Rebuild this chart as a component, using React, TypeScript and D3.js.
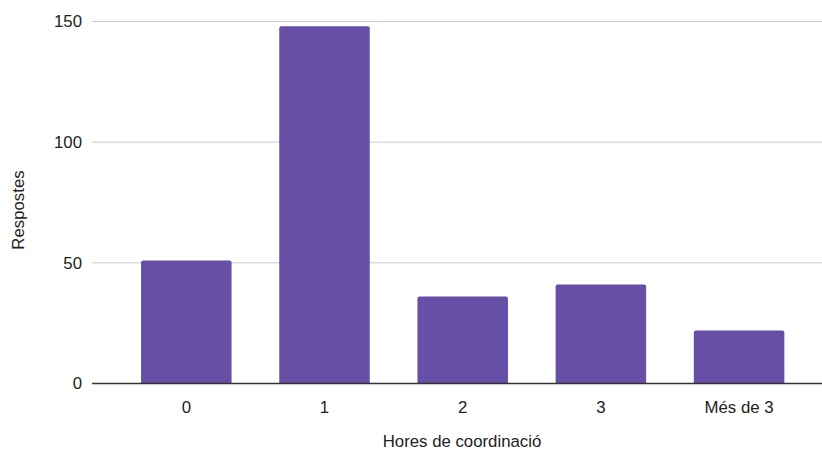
import React from "react";
import * as d3 from "d3";

const categories = ["0", "1", "2", "3", "Més de 3"];
const values = [51, 148, 36, 41, 22];
const yTicks = [0, 50, 100, 150];
const xTitle = "Hores de coordinació";
const yTitle = "Respostes";

const W = 822;
const H = 451;
const left = 92;
const baseY = 383.5;
const topY = 21.5;

export default function App() {
  const x = d3
    .scaleBand<string>()
    .domain(categories)
    .range([left, 833.4])
    .paddingInner(0.345)
    .paddingOuter(0.355);
  const y = d3.scaleLinear().domain([0, 150]).range([baseY, topY]);
  const font = "'Liberation Sans', Arial, sans-serif";
  const fs = 16.8;

  return (
    <svg
      width={W}
      height={H}
      style={{ position: "absolute", left: 0, top: 0, background: "#fff" }}
      fontFamily={font}
    >
      {yTicks.map((t) => (
        <g key={t}>
          {t !== 0 && (
            <line x1={left} x2={W} y1={y(t)} y2={y(t)} stroke="#cccccc" strokeWidth={1} />
          )}
          <text x={82} y={y(t)} dy="0.35em" textAnchor="end" fontSize={fs} fill="#222">
            {t}
          </text>
        </g>
      ))}
      {categories.map((c, i) => {
        const bx = x(c)!;
        const bw = x.bandwidth();
        const r = 2;
        const top = y(values[i]);
        const path = `M${bx},${baseY} V${top + r} Q${bx},${top} ${bx + r},${top} H${bx + bw - r} Q${bx + bw},${top} ${bx + bw},${top + r} V${baseY} Z`;
        return <path key={c} d={path} fill="#674ea7" />;
      })}
      <line x1={left} x2={W} y1={baseY} y2={baseY} stroke="#333" strokeWidth={1.3} />
      {categories.map((c) => (
        <text
          key={c}
          x={x(c)! + x.bandwidth() / 2}
          y={407}
          dy="0.35em"
          textAnchor="middle"
          fontSize={fs}
          fill="#222"
        >
          {c}
        </text>
      ))}
      <text x={462} y={441} dy="0.35em" textAnchor="middle" fontSize={fs} fill="#222">
        {xTitle}
      </text>
      <text
        transform={`translate(18,210) rotate(-90)`}
        dy="0.35em"
        textAnchor="middle"
        fontSize={fs}
        fill="#222"
      >
        {yTitle}
      </text>
    </svg>
  );
}
